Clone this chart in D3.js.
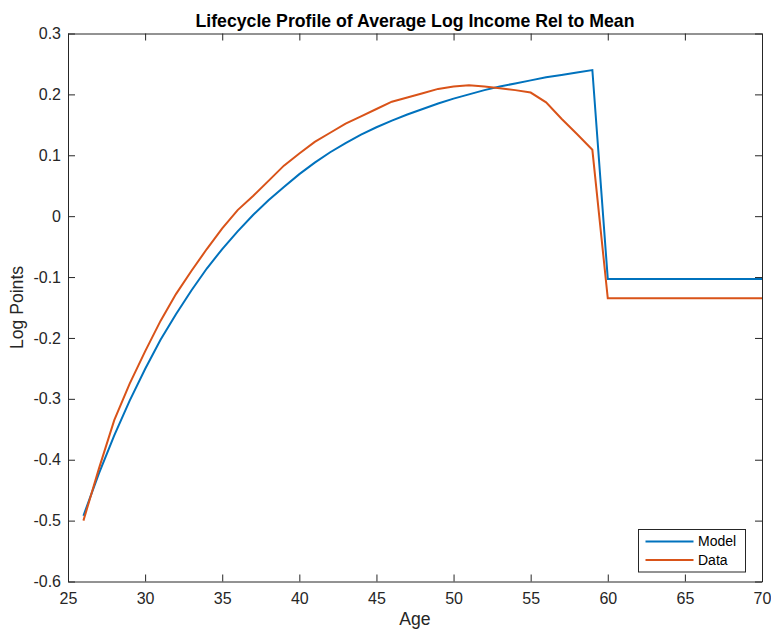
<!DOCTYPE html>
<html><head><meta charset="utf-8">
<script src="https://cdn.jsdelivr.net/npm/d3@7"></script>
<style>body{margin:0;background:#fff}svg{display:block}text{font-family:"Liberation Sans",Arial,Helvetica,sans-serif}</style>
</head><body>
<svg id="c" width="771" height="631"></svg>
<script>
const ages = d3.range(26, 71);
const modelValues = [-0.492,-0.423,-0.360,-0.303,-0.251,-0.203,-0.161,-0.122,-0.086,-0.054,
  -0.025,0.002,0.026,0.048,0.069,0.088,0.105,0.120,0.134,0.146,
  0.157,0.167,0.176,0.185,0.193,0.200,0.207,0.213,0.218,0.223,
  0.228,0.232,0.236,0.240,
  -0.103,-0.103,-0.103,-0.103,-0.103,-0.103,-0.103,-0.103,-0.103,-0.103,-0.103];
const dataValues = [-0.500,-0.415,-0.335,-0.275,-0.222,-0.172,-0.128,-0.090,-0.054,-0.020,
  0.010,0.033,0.058,0.083,0.103,0.122,0.137,0.152,0.164,0.176,
  0.188,0.195,0.202,0.209,0.213,0.215,0.213,0.210,0.207,0.203,
  0.187,0.160,0.135,0.109,
  -0.135,-0.135,-0.135,-0.135,-0.135,-0.135,-0.135,-0.135,-0.135,-0.135,-0.135];
const xTicks = [25,30,35,40,45,50,55,60,65,70];
const yTicks = [-0.6,-0.5,-0.4,-0.3,-0.2,-0.1,0,0.1,0.2,0.3];
const seriesNames = ["Model","Data"];
const seriesColors = ["#0072BD","#D95319"];
const titleText = "Lifecycle Profile of Average Log Income Rel to Mean";
const xLabel = "Age", yLabel = "Log Points";

const L=68, R=762, T=33.5, B=581.5;
const axisColor = "#262626";
const svg = d3.select("#c");
const x = d3.scaleLinear().domain([25,70]).range([L,R]);
const y = d3.scaleLinear().domain([-0.6,0.3]).range([B,T]);

const fmtY = d => d===0 ? "0" : d3.format(".1f")(d).replace("−","-");
const tl = 7;
const gb = svg.append("g").attr("transform",`translate(0,${B})`)
  .call(d3.axisBottom(x).tickValues(xTicks).tickSizeInner(-tl).tickSizeOuter(0).tickPadding(11.5));
const gt = svg.append("g").attr("transform",`translate(0,${T})`)
  .call(d3.axisTop(x).tickValues(xTicks).tickSizeInner(-tl).tickSizeOuter(0).tickFormat(""));
const gl = svg.append("g").attr("transform",`translate(${L},0)`)
  .call(d3.axisLeft(y).tickValues(yTicks).tickSizeInner(-tl).tickSizeOuter(0).tickPadding(7).tickFormat(fmtY));
const gr = svg.append("g").attr("transform",`translate(${R},0)`)
  .call(d3.axisRight(y).tickValues(yTicks).tickSizeInner(-tl).tickSizeOuter(0).tickFormat(""));
[gb,gt,gl,gr].forEach(g=>{
  g.selectAll("path,line").attr("stroke",axisColor).attr("stroke-width",1);
  g.selectAll("text").attr("fill",axisColor).style("font-size","16px").style("font-family",'"Liberation Sans",Arial,sans-serif');
});
gb.selectAll("text").attr("dy","0.71em");

const line = d3.line().x((d,i)=>x(ages[i])).y(d=>y(d));
[modelValues,dataValues].forEach((vals,k)=>{
  svg.append("path").datum(vals).attr("d",line).attr("fill","none")
    .attr("stroke",seriesColors[k]).attr("stroke-width",2).attr("stroke-linejoin","miter");
});

svg.append("text").attr("x",(L+R)/2).attr("y",26.5).attr("text-anchor","middle")
  .style("font-size","17.7px").style("font-weight","bold").attr("fill","#000").text(titleText);
svg.append("text").attr("x",(L+R)/2).attr("y",625).attr("text-anchor","middle")
  .style("font-size","17.6px").attr("fill",axisColor).text(xLabel);
svg.append("text").attr("transform",`translate(22.5,${(T+B)/2}) rotate(-90)`).attr("text-anchor","middle")
  .style("font-size","17.6px").attr("fill",axisColor).text(yLabel);

const lg = svg.append("g");
lg.append("rect").attr("x",638.5).attr("y",529.5).attr("width",107).attr("height",42.5)
  .attr("fill","#fff").attr("stroke",axisColor).attr("stroke-width",1);
seriesNames.forEach((n,i)=>{
  const yy = 541.5 + i*18.5;
  lg.append("line").attr("x1",645.5).attr("x2",693.5).attr("y1",yy).attr("y2",yy)
    .attr("stroke",seriesColors[i]).attr("stroke-width",2);
  lg.append("text").attr("x",698).attr("y",yy).attr("dy","0.35em").style("font-size","14px")
    .attr("fill","#000").text(n);
});
</script>
</body></html>
